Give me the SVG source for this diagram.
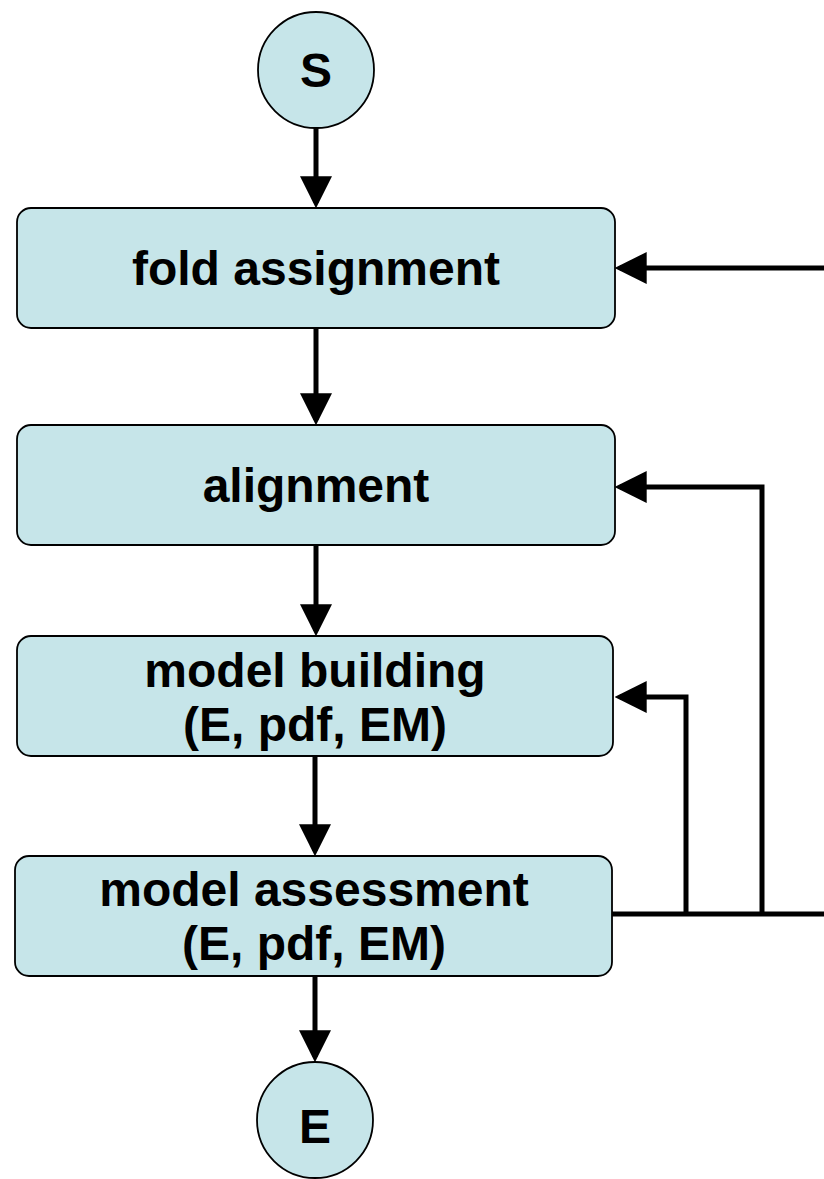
<svg xmlns="http://www.w3.org/2000/svg" width="824" height="1179" viewBox="0 0 824 1179">
<style>
.node{fill:#c6e5e9;stroke:#000;stroke-width:1.8}
.lbl{font-family:"Liberation Sans",Arial,sans-serif;font-weight:bold;font-size:48px;fill:#000;text-anchor:middle}
.c{fill:none;stroke:#000;stroke-width:5}
</style>
<defs>
<marker id="ah" markerUnits="userSpaceOnUse" markerWidth="32" markerHeight="32" viewBox="0 0 30 30" refX="25" refY="15" orient="auto">
<path d="M0,0 L30,15 L0,30 z" fill="#000"/>
</marker>
</defs>
<rect width="824" height="1179" fill="#fff"/>
<g id="connectors">
<line class="c" x1="316" y1="128" x2="316" y2="203" marker-end="url(#ah)"/>
<line class="c" x1="316" y1="328" x2="316" y2="420" marker-end="url(#ah)"/>
<line class="c" x1="316" y1="545" x2="316" y2="631" marker-end="url(#ah)"/>
<line class="c" x1="315" y1="756" x2="315" y2="851" marker-end="url(#ah)"/>
<line class="c" x1="315" y1="976" x2="315" y2="1057" marker-end="url(#ah)"/>
<line class="c" x1="824" y1="268" x2="620" y2="268" marker-end="url(#ah)"/>
<polyline class="c" points="612,914 824,914"/>
<polyline class="c" points="686,914 686,697 620,697" marker-end="url(#ah)"/>
<polyline class="c" points="762,914 762,487 620,487" marker-end="url(#ah)"/>
</g>
<g id="start">
<circle class="node" cx="316" cy="70" r="58"/>
<text class="lbl" x="316" y="87">S</text>
</g>
<g id="fold">
<rect class="node" x="17" y="208" width="598" height="120" rx="14"/>
<text class="lbl" x="316" y="285">fold assignment</text>
</g>
<g id="alignment">
<rect class="node" x="17" y="425" width="598" height="120" rx="14"/>
<text class="lbl" x="316" y="502">alignment</text>
</g>
<g id="building">
<rect class="node" x="17" y="636" width="596" height="120" rx="14"/>
<text class="lbl" x="315" y="687">model building</text>
<text class="lbl" x="315" y="741">(E, pdf, EM)</text>
</g>
<g id="assessment">
<rect class="node" x="15" y="856" width="597" height="120" rx="14"/>
<text class="lbl" x="314" y="906">model assessment</text>
<text class="lbl" x="314" y="960">(E, pdf, EM)</text>
</g>
<g id="end">
<circle class="node" cx="315" cy="1120" r="58"/>
<text class="lbl" x="315" y="1143">E</text>
</g>
</svg>
